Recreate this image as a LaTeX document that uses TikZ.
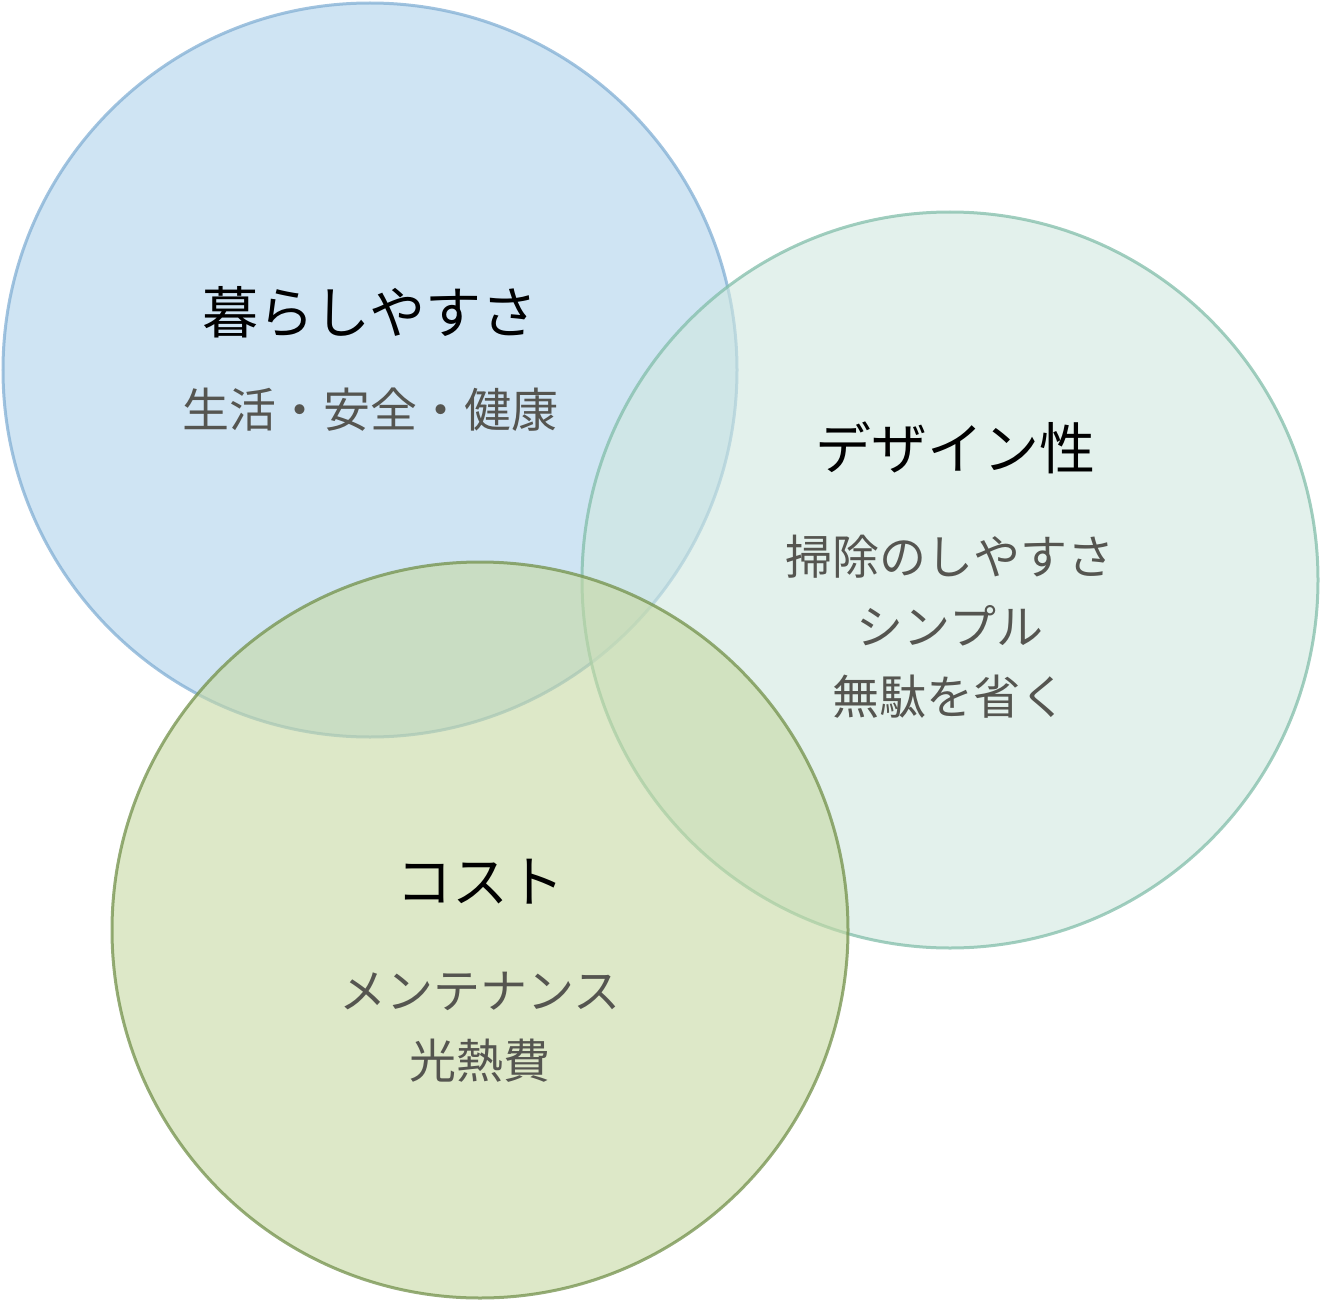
\documentclass[tikz,border=0pt]{standalone}
\usepackage{fontspec}
\newfontfamily\cjk{Noto Sans CJK JP}
\definecolor{cb}{RGB}{175,210,235}
\definecolor{ct}{RGB}{208,232,223}
\definecolor{co}{RGB}{198,217,163}
\definecolor{sb}{RGB}{130,175,212}
\definecolor{st}{RGB}{130,190,170}
\definecolor{so}{RGB}{115,145,75}
\definecolor{sub}{RGB}{85,85,80}
\begin{document}
\begin{tikzpicture}[x=1pt,y=-1pt,
  circ/.style={line width=3pt,fill opacity=0.6,draw opacity=0.75},
  ttl/.style={font=\cjk\fontsize{56}{56}\selectfont,text=black},
  sbt/.style={font=\cjk\fontsize{47}{70}\selectfont,text=sub,align=center}]
\useasboundingbox (0,0) rectangle (1320,1300);
\path[circ,fill=cb,draw=sb] (370,370) circle (367);
\path[circ,fill=ct,draw=st] (950,580) circle (368);
\path[circ,fill=co,draw=so] (480,930) circle (368);
\node[ttl] (t1) at (370,312) {暮らしやすさ};
\node[sbt] (s1) at (370,410) {生活・安全・健康};
\node[ttl] (t2) at (955,448) {デザイン性};
\node[sbt] (s2) at (950,627) {掃除のしやすさ\\シンプル\\無駄を省く};
\node[ttl] (t3) at (480,882) {コスト};
\node[sbt] (s3) at (480,1027) {メンテナンス\\光熱費};
\end{tikzpicture}
\end{document}
